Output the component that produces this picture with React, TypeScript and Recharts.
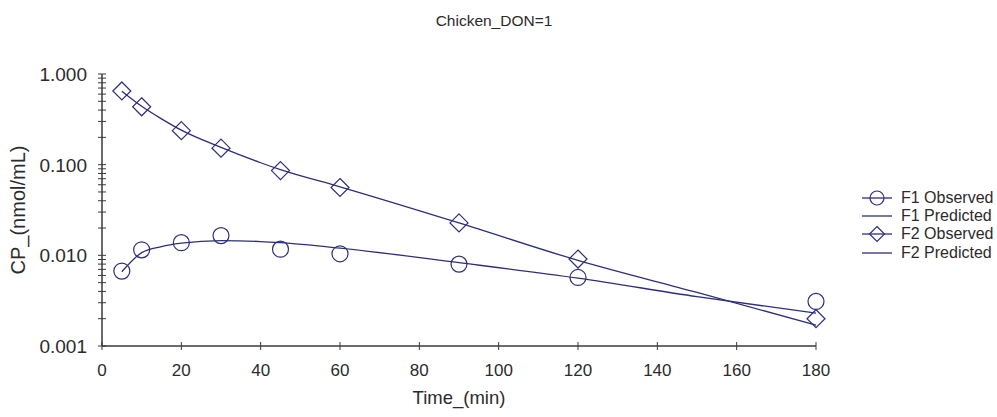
import {
  ComposedChart,
  Line,
  Scatter,
  XAxis,
  YAxis,
} from 'recharts';

const title = 'Chicken_DON=1';
const xLabel = 'Time_(min)';
const yLabel = 'CP_(nmol/mL)';

// observed sampling times and concentrations
const obsTime = [5, 10, 20, 30, 45, 60, 90, 120, 180];
const f1Observed = [0.0067, 0.0115, 0.0138, 0.0165, 0.0117, 0.0104, 0.008, 0.0057, 0.0031];
const f2Observed = [0.65, 0.435, 0.237, 0.152, 0.086, 0.056, 0.0228, 0.0091, 0.002];

// model predictions
const predTime = [5, 10, 15, 20, 30, 40, 45, 60, 90, 120, 150, 180];
const f1Predicted = [0.0066, 0.0107, 0.0125, 0.0136, 0.0145, 0.0142, 0.0138, 0.012, 0.0083, 0.0056, 0.0035, 0.0023];
const f2Predicted = [0.645, 0.44, 0.32, 0.24, 0.155, 0.105, 0.088, 0.057, 0.0228, 0.0088, 0.0039, 0.0017];

const xTicks = [0, 20, 40, 60, 80, 100, 120, 140, 160, 180];
const yMajor = [0.001, 0.01, 0.1, 1];
const yTicks = [
  0.001, 0.002, 0.003, 0.004, 0.005, 0.006, 0.007, 0.008, 0.009,
  0.01, 0.02, 0.03, 0.04, 0.05, 0.06, 0.07, 0.08, 0.09,
  0.1, 0.2, 0.3, 0.4, 0.5, 0.6, 0.7, 0.8, 0.9, 1,
];

const legendItems = [
  { name: 'F1 Observed', marker: 'circle' },
  { name: 'F1 Predicted', marker: 'none' },
  { name: 'F2 Observed', marker: 'diamond' },
  { name: 'F2 Predicted', marker: 'none' },
];

const toRows = (xs: number[], ys: number[]) => xs.map((t, i) => ({ t, c: ys[i] }));

const navy = '#2e2e7e';
const axisColor = '#3a3a3a';
const textColor = '#2b2b2b';
const font = '"Liberation Sans", Arial, sans-serif';

function YTick(props: any) {
  const { x, y, payload } = props;
  const major = yMajor.some((m) => Math.abs(m - payload.value) < 1e-9);
  return (
    <g>
      <line x1={x - 4} x2={x + 4} y1={y} y2={y} stroke={axisColor} />
      {major && (
        <text x={x - 15} y={y} dy={7} textAnchor="end" fontSize={19} fill={textColor} fontFamily={font}>
          {payload.value.toFixed(3)}
        </text>
      )}
    </g>
  );
}

function XTick(props: any) {
  const { x, y, payload } = props;
  return (
    <g>
      <line x1={x} x2={x} y1={y - 4} y2={y + 4} stroke={axisColor} />
      <text x={x} y={y + 30} textAnchor="middle" fontSize={17} fill={textColor} fontFamily={font}>
        {payload.value}
      </text>
    </g>
  );
}

function Circle(props: any) {
  const { cx, cy } = props;
  return <circle cx={cx} cy={cy} r={8} fill="none" stroke={navy} strokeWidth={1.2} />;
}

function Diamond(props: any) {
  const { cx, cy } = props;
  const s = 9;
  return (
    <polygon
      points={`${cx},${cy - s} ${cx + s},${cy} ${cx},${cy + s} ${cx - s},${cy}`}
      fill="none"
      stroke={navy}
      strokeWidth={1.2}
    />
  );
}

export default function App() {
  return (
    <div style={{ position: 'relative', width: 997, height: 417, background: '#fff', fontFamily: font, overflow: 'hidden' }}>
      <style>{'body{margin:0}'}</style>
      <ComposedChart
        width={997}
        height={417}
        margin={{ top: 74, right: 181, bottom: 0, left: 0 }}
      >
        <XAxis
          dataKey="t"
          type="number"
          domain={[0, 180]}
          ticks={xTicks}
          interval={0}
          tickSize={0}
          tickMargin={0}
          height={71}
          tick={<XTick />}
          axisLine={{ stroke: axisColor, strokeWidth: 1.5 }}
          label={{ value: xLabel, position: 'insideBottom', offset: 13, fontSize: 18.5, fill: textColor, fontFamily: font }}
        />
        <YAxis
          dataKey="c"
          type="number"
          scale="log"
          domain={[0.001, 1]}
          allowDataOverflow
          ticks={yTicks}
          interval={0}
          tickSize={0}
          tickMargin={0}
          width={102}
          tick={<YTick />}
          axisLine={{ stroke: axisColor, strokeWidth: 1.5 }}
          label={{
            value: yLabel,
            angle: -90,
            position: 'insideLeft',
            offset: 18,
            style: { textAnchor: 'middle' },
            fontSize: 20,
            fill: textColor,
            fontFamily: font,
          }}
        />
        <Line
          data={toRows(predTime, f1Predicted)}
          dataKey="c"
          type="monotone"
          stroke={navy}
          strokeWidth={1.3}
          dot={false}
          activeDot={false}
          isAnimationActive={false}
        />
        <Line
          data={toRows(predTime, f2Predicted)}
          dataKey="c"
          type="monotone"
          stroke={navy}
          strokeWidth={1.3}
          dot={false}
          activeDot={false}
          isAnimationActive={false}
        />
        <Scatter data={toRows(obsTime, f1Observed)} dataKey="c" shape={<Circle />} isAnimationActive={false} />
        <Scatter data={toRows(obsTime, f2Observed)} dataKey="c" shape={<Diamond />} isAnimationActive={false} />
      </ComposedChart>

      <div
        style={{
          position: 'absolute',
          top: 12,
          left: 0,
          width: 988,
          textAlign: 'center',
          fontSize: 15.5,
          color: textColor,
        }}
      >
        {title}
      </div>

      <div style={{ position: 'absolute', left: 860, top: 189 }}>
        {legendItems.map((item) => (
          <div key={item.name} style={{ display: 'flex', alignItems: 'center', height: 18.2 }}>
            <svg width={34} height={18}>
              <line x1={2} x2={32} y1={9} y2={9} stroke={navy} strokeWidth={1.3} />
              {item.marker === 'circle' && <circle cx={17} cy={9} r={7} fill="none" stroke={navy} strokeWidth={1.2} />}
              {item.marker === 'diamond' && (
                <polygon points="17,1.5 24.5,9 17,16.5 9.5,9" fill="none" stroke={navy} strokeWidth={1.2} />
              )}
            </svg>
            <span style={{ marginLeft: 7, fontSize: 16, color: textColor, whiteSpace: 'nowrap' }}>{item.name}</span>
          </div>
        ))}
      </div>
    </div>
  );
}
